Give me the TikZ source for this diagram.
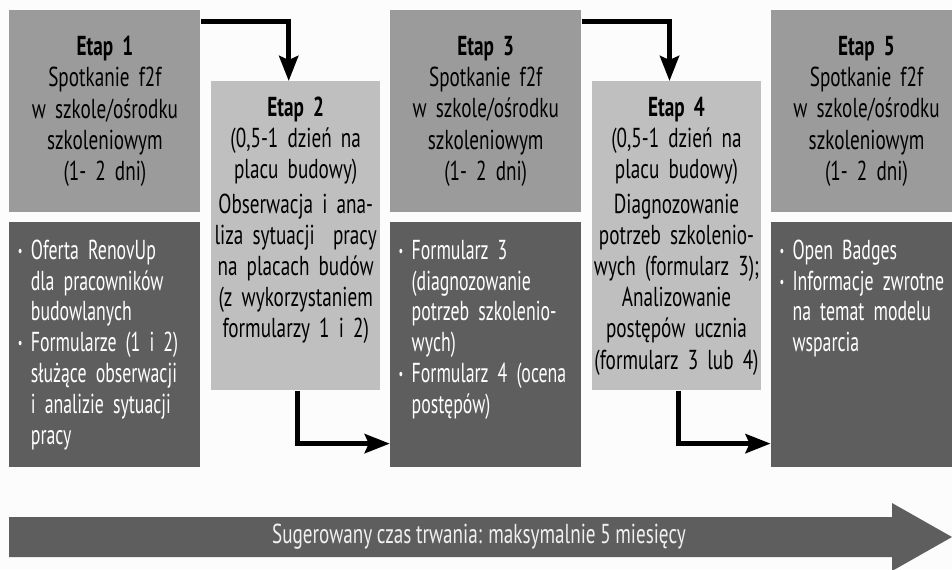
\documentclass[tikz,border=0pt]{standalone}
\usepackage{fontspec}
\setmainfont{PT Sans}[FakeStretch=0.7]
\newfontfamily\listfamily{PT Sans}[FakeStretch=0.65]
\usetikzlibrary{positioning,arrows.meta}
\definecolor{meetgray}{HTML}{9B9B9B}
\definecolor{sitegray}{HTML}{BFBFBF}
\definecolor{listgray}{HTML}{5E5E5E}
\definecolor{pagebg}{HTML}{FCFCFC}
\newcommand{\itm}{\hspace*{4.25pt}\makebox[6.5pt][l]{\raisebox{0.1em}{\footnotesize\textbullet}}}
\newcommand{\cnt}{\hspace*{10.75pt}}
\newcommand{\topbox}[4]{\parbox[c][#1][t]{\linewidth}{#2\rule{0pt}{#3}#4}}
\newcommand{\stagefont}{\fontsize{13.7}{15.6}\selectfont\fontdimen2\font=2.3pt\relax}
\newcommand{\listfont}{\listfamily\fontsize{13.7}{15.4}\selectfont\fontdimen2\font=2.2pt\relax}

\begin{document}
\begin{tikzpicture}[font=\stagefont,
  meetbox/.style={fill=meetgray,minimum width=95.5pt,minimum height=101pt,text width=93pt,align=center,inner sep=0pt},
  sitebox/.style={fill=sitegray,minimum width=84.5pt,text width=84.5pt,inner sep=0pt},
  listbox/.style={fill=listgray,text=white,font=\listfont,text width=95.5pt,inner sep=0pt},
  ar/.style={-{Stealth[length=12.5pt,width=9.5pt,inset=2pt]},line width=2.5pt,line join=miter}]
  \path[use as bounding box,fill=pagebg] (0,0) rectangle (476pt,-284.5pt);
  % stages
  \node[meetbox,anchor=north west] (e1) at (4.5pt,-5pt) {\textbf{Etap 1}\\ Spotkanie f2f\\ w szkole/ośrodku\\ szkoleniowym\\ (1- 2 dni)};
  \node[listbox,below=4.5pt of e1] (l1) {\topbox{122.5pt}{\raggedright}{18.5pt}{\itm Oferta RenovUp\\ \cnt dla pracowników\\ \cnt budowlanych\\ \itm Formularze (1 i 2)\\ \cnt służące obserwacji\\ \cnt i analizie sytuacji\\ \cnt pracy}};
  \node[sitebox,below right=35.5pt and 5pt of e1.north east] (e2) {\topbox{154.5pt}{\centering}{17.5pt}{\textbf{Etap 2}\\ (0,5-1 dzień na\\ placu budowy)\\[1.5pt] Obserwacja i ana-\\ liza sytuacji~ pracy\\ na placach budów\\ (z wykorzystaniem\\ formularzy 1 i 2)}};
  \node[meetbox,right=94.5pt of e1] (e3) {\textbf{Etap 3}\\ Spotkanie f2f\\ w szkole/ośrodku\\ szkoleniowym\\ (1- 2 dni)};
  \node[listbox,below=4.5pt of e3] (l3) {\topbox{122.5pt}{\raggedright}{18.5pt}{\itm Formularz 3\\ \cnt (diagnozowanie\\ \cnt potrzeb szkolenio-\\ \cnt wych)\\ \itm Formularz 4 (ocena\\ \cnt postępów)}};
  \node[sitebox,below right=35.5pt and 5pt of e3.north east] (e4) {\topbox{154.5pt}{\centering}{17.5pt}{\textbf{Etap 4}\\ (0,5-1 dzień na\\ placu budowy)\\[1.5pt] Diagnozowanie\\ potrzeb szkolenio-\\ wych (formularz 3);\\ Analizowanie\\ postępów ucznia\\ (formularz 3 lub 4)}};
  \node[meetbox,right=94.5pt of e3] (e5) {\textbf{Etap 5}\\ Spotkanie f2f\\ w szkole/ośrodku\\ szkoleniowym\\ (1- 2 dni)};
  \node[listbox,below=4.5pt of e5] (l5) {\topbox{122.5pt}{\raggedright}{18.5pt}{\itm Open Badges\\ \itm Informacje zwrotne\\ \cnt na temat modelu\\ \cnt wsparcia}};
  % flow between stages
  \draw[ar] ([yshift=-5.5pt]e1.north east) -| ([xshift=-3.5pt]e2.north);
  \draw[ar] ([xshift=0.75pt]e2.south) |- ([yshift=12pt]l3.south west);
  \draw[ar] ([yshift=-5.5pt]e3.north east) -| ([xshift=-3.5pt]e4.north);
  \draw[ar] ([xshift=0.75pt]e4.south) |- ([yshift=12pt]l5.south west);
  % duration arrow
  \fill[listgray] (4.5pt,-258.5pt) -- (446pt,-258.5pt) -- (446pt,-251.5pt) -- (476pt,-268.5pt)
    -- (446pt,-285.5pt) -- (446pt,-278.5pt) -- (4.5pt,-278.5pt) -- cycle;
  \node[text=white!94!black] (dur) at (239.5pt,-268.5pt) {Sugerowany czas trwania: maksymalnie 5 miesięcy};
\end{tikzpicture}
\end{document}
